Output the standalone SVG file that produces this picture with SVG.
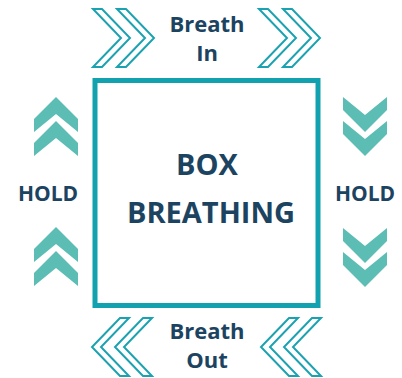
<svg xmlns="http://www.w3.org/2000/svg" xmlns:xlink="http://www.w3.org/1999/xlink" width="402" height="378" viewBox="0 0 402 378">
<style>
.lbl{font-family:"Open Sans","Liberation Sans",sans-serif;font-weight:700;fill:#1C4461;text-anchor:middle}
.out{fill:#fff;stroke:#1BA2B0;stroke-width:2;stroke-linejoin:miter}
.fill{fill:#5CBDB5}
</style>
<defs>
<polygon id="chevR" class="out" points="0,0 9,0 37,29 9,58 0,58 28,29"/>
<polygon id="chevL" class="out" points="37,0 28,0 0,29 28,58 37,58 9,29"/>
<path id="pairUp" class="fill" d="M0,0 L22,22 L22,35 L0,17 L-22,35 L-22,22 Z M0,24 L22,46 L22,59 L0,41 L-22,59 L-22,46 Z"/>
</defs>
<rect x="0" y="0" width="402" height="378" fill="#fff"/>
<g id="connectors">
<use xlink:href="#chevR" x="93" y="9"/>
<use xlink:href="#chevR" x="117" y="9"/>
<use xlink:href="#chevR" x="259" y="9"/>
<use xlink:href="#chevR" x="283" y="9"/>
<use xlink:href="#chevL" x="92" y="318"/>
<use xlink:href="#chevL" x="115" y="318"/>
<use xlink:href="#chevL" x="261" y="318"/>
<use xlink:href="#chevL" x="284" y="318"/>
<use xlink:href="#pairUp" transform="translate(56,97)"/>
<use xlink:href="#pairUp" transform="translate(56,227)"/>
<use xlink:href="#pairUp" transform="translate(365,156) scale(1,-1)"/>
<use xlink:href="#pairUp" transform="translate(365,287) scale(1,-1)"/>
</g>
<g id="box">
<rect x="95" y="80.5" width="223" height="225" fill="none" stroke="#12A1AE" stroke-width="5"/>
<text class="lbl" x="207" y="175" font-size="29">BOX</text>
<text class="lbl" x="211" y="223" font-size="29">BREATHING</text>
</g>
<g id="breath-in">
<text class="lbl" x="207" y="32" font-size="22">Breath</text>
<text class="lbl" x="207" y="61" font-size="22">In</text>
</g>
<g id="breath-out">
<text class="lbl" x="207" y="339" font-size="22">Breath</text>
<text class="lbl" x="207" y="368" font-size="22">Out</text>
</g>
<g id="hold-left">
<text class="lbl" x="48" y="201" font-size="21">HOLD</text>
</g>
<g id="hold-right">
<text class="lbl" x="365" y="201" font-size="21">HOLD</text>
</g>
</svg>
